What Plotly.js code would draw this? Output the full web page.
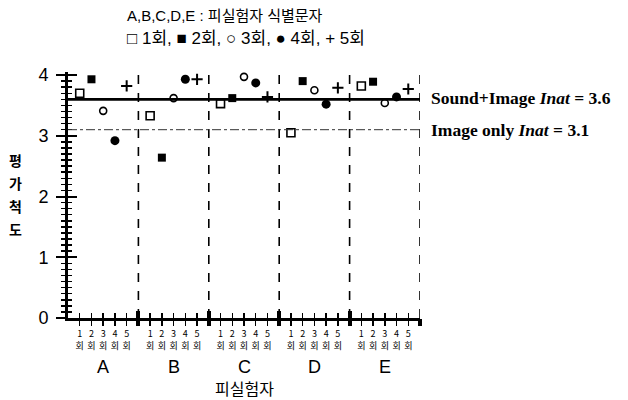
<!DOCTYPE html>
<html><head><meta charset="utf-8">
<script src="https://cdn.plot.ly/plotly-3.0.1.min.js"></script>
<style>body{margin:0;background:#fff}#chart{width:628px;height:400px}</style>
</head><body><div id="chart"></div>
<script>
// ---- data ----
const subjects = ['A', 'B', 'C', 'D', 'E'];
const runLabels = ['1', '2', '3', '4', '5'];
const runUnit = '회';
const run1 = [3.70, 3.33, 3.53, 3.05, 3.82]; // □ 1회
const run2 = [3.93, 2.64, 3.62, 3.90, 3.89]; // ■ 2회
const run3 = [3.41, 3.62, 3.97, 3.75, 3.54]; // ○ 3회
const run4 = [2.92, 3.93, 3.87, 3.52, 3.64]; // ● 4회
const run5 = [3.82, 3.93, 3.64, 3.79, 3.77]; // + 5회
const soundImageInat = 3.6;
const imageOnlyInat = 3.1;
const yTickVals = [0, 1, 2, 3, 4];
const titleLine1 = 'A,B,C,D,E : 피실험자 식별문자';
const titleLine2 = '□ 1회, ■ 2회, ○ 3회, ● 4회, + 5회';
const yTitle = '평가척도';
const xTitle = '피실험자';
const refLabel1 = ['Sound+Image ', 'Inat', ' = 3.6'];
const refLabel2 = ['Image only ', 'Inat', ' = 3.1'];

// ---- helpers ----
const slots = runLabels.length + 1;
const pos = (g, r) => g * slots + r + 1;
const tickPos = [], tickText = [];
subjects.forEach((s, g) => runLabels.forEach((r, i) => { tickPos.push(pos(g, i)); tickText.push(r + '<br>' + runUnit); }));
const boundaries = subjects.map((s, g) => (g + 1) * slots);
const xMax = subjects.length * slots;

const runSeries = [run1, run2, run3, run4, run5];
const markerStyles = [
  {symbol: 'square-open', size: 8, color: '#000', line: {width: 1.6, color: '#000'}},
  {symbol: 'square', size: 8, color: '#000'},
  {symbol: 'circle-open', size: 7, color: '#000', line: {width: 1.6, color: '#000'}},
  {symbol: 'circle', size: 9, color: '#000'},
  {symbol: 'cross-thin-open', size: 8, color: '#000', line: {width: 2, color: '#000'}}
];
const traces = runSeries.map((vals, i) => ({
  type: 'scatter', mode: 'markers',
  x: subjects.map((s, g) => pos(g, i)), y: vals,
  marker: markerStyles[i], cliponaxis: false, hoverinfo: 'skip', showlegend: false
}));
// helper traces so the overlay axes (tick crossings) are drawn
[['x2', 'y'], ['x3', 'y'], ['x4', 'y'], ['x', 'y2']].forEach(([xa, ya]) =>
  traces.push({type: 'scatter', mode: 'markers', x: [], y: [], xaxis: xa, yaxis: ya, showlegend: false, hoverinfo: 'skip'}));

const sans = 'Liberation Sans, Arial, Noto Sans CJK KR, sans-serif';
const kr = 'Noto Sans CJK KR, sans-serif';
const serif = 'Liberation Serif, Times New Roman, serif';
const yRange = [0, 4.05];
const xRange = [0, xMax];
const plotTop = 72, plotBottom = 318, plotH = plotBottom - plotTop;
const paperY = px => (plotBottom - px) / plotH;

const baseX = {range: xRange, showgrid: false, zeroline: false, fixedrange: true};
const shapes = [];
boundaries.forEach(b => shapes.push({type: 'line', xref: 'x', yref: 'y', x0: b, x1: b, y0: 0, y1: 4,
  line: {color: '#000', width: 1.6, dash: 'dash'}}));
shapes.push({type: 'line', xref: 'x', yref: 'y', x0: 0, x1: xMax, y0: soundImageInat, y1: soundImageInat,
  line: {color: '#000', width: 2.8}});
shapes.push({type: 'line', xref: 'x', yref: 'y', x0: 0, x1: xMax, y0: imageOnlyInat, y1: imageOnlyInat,
  line: {color: '#333', width: 1, dash: 'dashdot'}});

const annotations = [
  {xref: 'paper', yref: 'paper', x: 0.162, y: paperY(15), xanchor: 'left', yanchor: 'middle', showarrow: false,
   text: titleLine1, font: {family: sans, size: 15, color: '#000'}},
  {xref: 'paper', yref: 'paper', x: 0.162, y: paperY(38), xanchor: 'left', yanchor: 'middle', showarrow: false,
   text: titleLine2, font: {family: sans, size: 17, color: '#000'}},
  {xref: 'paper', yref: 'paper', x: 0.5, y: 0, xanchor: 'center', yanchor: 'middle', yshift: -70, showarrow: false,
   text: xTitle, font: {family: kr, size: 16, color: '#000'}},
  {xref: 'paper', yref: 'y', x: 1, y: soundImageInat, xanchor: 'left', yanchor: 'middle', xshift: 9, yshift: 1, showarrow: false,
   text: '<b>' + refLabel1[0] + '<i>' + refLabel1[1] + '</i>' + refLabel1[2] + '</b>', font: {family: serif, size: 17.5, color: '#000'}},
  {xref: 'paper', yref: 'y', x: 1, y: imageOnlyInat, xanchor: 'left', yanchor: 'middle', xshift: 9, showarrow: false,
   text: '<b>' + refLabel2[0] + '<i>' + refLabel2[1] + '</i>' + refLabel2[2] + '</b>', font: {family: serif, size: 17.5, color: '#000'}}
];
// vertical, upright y-axis title (one character per line)
yTitle.split('').forEach((ch, i) => annotations.push({xref: 'paper', yref: 'paper', x: -0.15, y: paperY(160 + i * 23),
  xanchor: 'center', yanchor: 'middle', showarrow: false, text: '<b>' + ch + '</b>', font: {family: kr, size: 14, color: '#000'}}));
subjects.forEach((s, g) => annotations.push({xref: 'x', yref: 'paper', x: g * slots + slots / 2, y: 0,
  xanchor: 'center', yanchor: 'middle', yshift: -49, showarrow: false, text: s, font: {family: sans, size: 18, color: '#000'}}));

const layout = {
  width: 628, height: 400,
  margin: {l: 68, r: 208, t: plotTop, b: 400 - plotBottom},
  paper_bgcolor: '#fff', plot_bgcolor: '#fff',
  showlegend: false,
  xaxis: Object.assign({}, baseX, {
    tickmode: 'array', tickvals: tickPos, ticktext: tickText, ticks: 'outside', ticklen: 5, tickwidth: 1.5, tickcolor: '#000',
    showline: true, linewidth: 3, linecolor: '#000', tickfont: {family: kr, size: 9, color: '#000'}, anchor: 'y'
  }),
  xaxis2: Object.assign({}, baseX, {overlaying: 'x', anchor: 'y', tickmode: 'array', tickvals: tickPos,
    ticks: 'inside', ticklen: 5, tickwidth: 1.5, tickcolor: '#000', showticklabels: false, showline: false}),
  xaxis3: Object.assign({}, baseX, {overlaying: 'x', anchor: 'y', tickmode: 'array', tickvals: boundaries,
    ticks: 'outside', ticklen: 7, tickwidth: 4, tickcolor: '#000', showticklabels: false, showline: false}),
  xaxis4: Object.assign({}, baseX, {overlaying: 'x', anchor: 'y', tickmode: 'array', tickvals: boundaries,
    ticks: 'inside', ticklen: 7, tickwidth: 4, tickcolor: '#000', showticklabels: false, showline: false}),
  yaxis: {range: yRange, tickmode: 'array', tickvals: yTickVals, ticks: 'outside', ticklen: 9, tickwidth: 2, tickcolor: '#000',
    minor: {tickmode: 'linear', tick0: 0, dtick: 0.1, ticks: 'outside', ticklen: 4, tickwidth: 1.5, tickcolor: '#000'},
    showline: true, linewidth: 3, linecolor: '#000', showgrid: false, zeroline: false, fixedrange: true,
    tickfont: {family: sans, size: 18, color: '#000'}, ticklabelstandoff: 4, anchor: 'x'},
  yaxis2: {range: yRange, overlaying: 'y', anchor: 'x', tickmode: 'array', tickvals: yTickVals, ticks: 'inside', ticklen: 9, tickwidth: 2, tickcolor: '#000',
    minor: {tickmode: 'linear', tick0: 0, dtick: 0.1, ticks: 'inside', ticklen: 4, tickwidth: 1.5, tickcolor: '#000'},
    showticklabels: false, showline: false, showgrid: false, zeroline: false, fixedrange: true},
  shapes: shapes,
  annotations: annotations
};
Plotly.newPlot('chart', traces, layout, {staticPlot: true, displayModeBar: false});
</script>
</body></html>
